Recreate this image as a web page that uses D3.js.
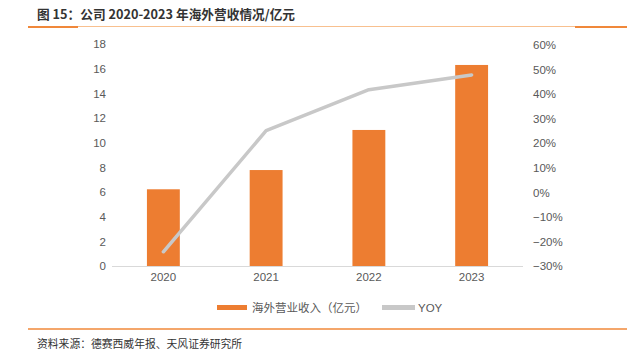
<!DOCTYPE html>
<html><head><meta charset="utf-8">
<script src="https://cdn.jsdelivr.net/npm/d3@7"></script>
<style>
html,body{margin:0;padding:0;background:#fff;}
svg text{font-family:"Liberation Sans","Noto Sans CJK SC",Arial,sans-serif;}
</style></head>
<body><svg id="c" width="640" height="355"></svg>
<script>
const years = ["2020","2021","2022","2023"];
const revenue = [6.22, 7.78, 11.03, 16.30];
const yoy = [-24.2, 25.1, 41.8, 47.8];
const leftTicks = [0,2,4,6,8,10,12,14,16,18];
const rightTicks = [-30,-20,-10,0,10,20,30,40,50,60];
const title = "图 15：公司 2020-2023 年海外营收情况/亿元";
const source = "资料来源：德赛西威年报、天风证券研究所";
const legendNames = ["海外营业收入（亿元）","YOY"];

const svg = d3.select("#c");
const orange = "#ED7D31", grey = "#C8C8C8", txt = "#595959";

// header
svg.append("text").attr("x",37).attr("y",19).attr("font-size",12.7).attr("font-weight","bold")
  .attr("fill","#333").style("font-family","'Noto Sans CJK SC',sans-serif").text(title);
svg.append("line").attr("x1",28).attr("x2",627).attr("y1",26.5).attr("y2",26.5).attr("stroke","#F8C08F").attr("stroke-width",1);
svg.append("line").attr("x1",28).attr("x2",78).attr("y1",27).attr("y2",27).attr("stroke","#F0883A").attr("stroke-width",2);
svg.append("line").attr("x1",575).attr("x2",627).attr("y1",27).attr("y2",27).attr("stroke","#F0883A").attr("stroke-width",2);
// footer
svg.append("line").attr("x1",28).attr("x2",627).attr("y1",329).attr("y2",329).attr("stroke","#F0883A").attr("stroke-width",1.5);
svg.append("text").attr("x",37).attr("y",348).attr("font-size",10.8).attr("fill","#333")
  .style("font-family","'Noto Sans CJK SC',sans-serif").text(source);

const x = d3.scaleBand().domain(years).range([112,523]).paddingInner(0.68).paddingOuter(0.34);
const yL = d3.scaleLinear().domain([0,18]).range([266,44]);
const yR = d3.scaleLinear().domain([-30,60]).range([266,45]);

// left axis
const gl = svg.append("g").attr("transform","translate(106,0)")
  .call(d3.axisLeft(yL).tickValues(leftTicks).tickSize(0).tickPadding(0));
gl.select(".domain").remove();
gl.selectAll("text").attr("font-size",11.5).attr("fill",txt);
// right axis
const gr = svg.append("g").attr("transform","translate(533,0)")
  .call(d3.axisRight(yR).tickValues(rightTicks).tickSize(0).tickPadding(0)
    .tickFormat(d => (d<0 ? "\u2212"+Math.abs(d) : d) + "%"));
gr.select(".domain").remove();
gr.selectAll("text").attr("font-size",11.5).attr("fill",txt);

// bars
svg.append("g").selectAll("rect").data(years).join("rect")
  .attr("x",d=>x(d)).attr("width",x.bandwidth())
  .attr("y",(d,i)=>yL(revenue[i])).attr("height",(d,i)=>yL(0)-yL(revenue[i]))
  .attr("fill",orange);

// x axis
svg.append("line").attr("x1",112).attr("x2",523).attr("y1",266.5).attr("y2",266.5).attr("stroke","#D9D9D9").attr("stroke-width",1);
const gx = svg.append("g").attr("transform","translate(0,272)")
  .call(d3.axisBottom(x).tickSize(0).tickPadding(0));
gx.select(".domain").remove();
gx.selectAll("text").attr("font-size",11.5).attr("fill",txt).attr("dy","0.75em");

// line
const line = d3.line().x((d,i)=>x(years[i])+x.bandwidth()/2).y(d=>yR(d));
svg.append("path").datum(yoy).attr("d",line).attr("fill","none").attr("stroke",grey)
  .attr("stroke-width",3.5).attr("stroke-linecap","round").attr("stroke-linejoin","round");

// legend
const lg = svg.append("g");
lg.append("rect").attr("x",217).attr("y",305).attr("width",30).attr("height",5).attr("fill",orange);
lg.append("text").attr("x",252).attr("y",312).attr("font-size",11.5).attr("fill",txt)
  .style("font-family","'Noto Sans CJK SC',sans-serif").text(legendNames[0]);
lg.append("rect").attr("x",382).attr("y",305).attr("width",33).attr("height",5).attr("fill",grey);
lg.append("text").attr("x",418).attr("y",312).attr("font-size",11.5).attr("fill",txt).text(legendNames[1]);
</script></body></html>
